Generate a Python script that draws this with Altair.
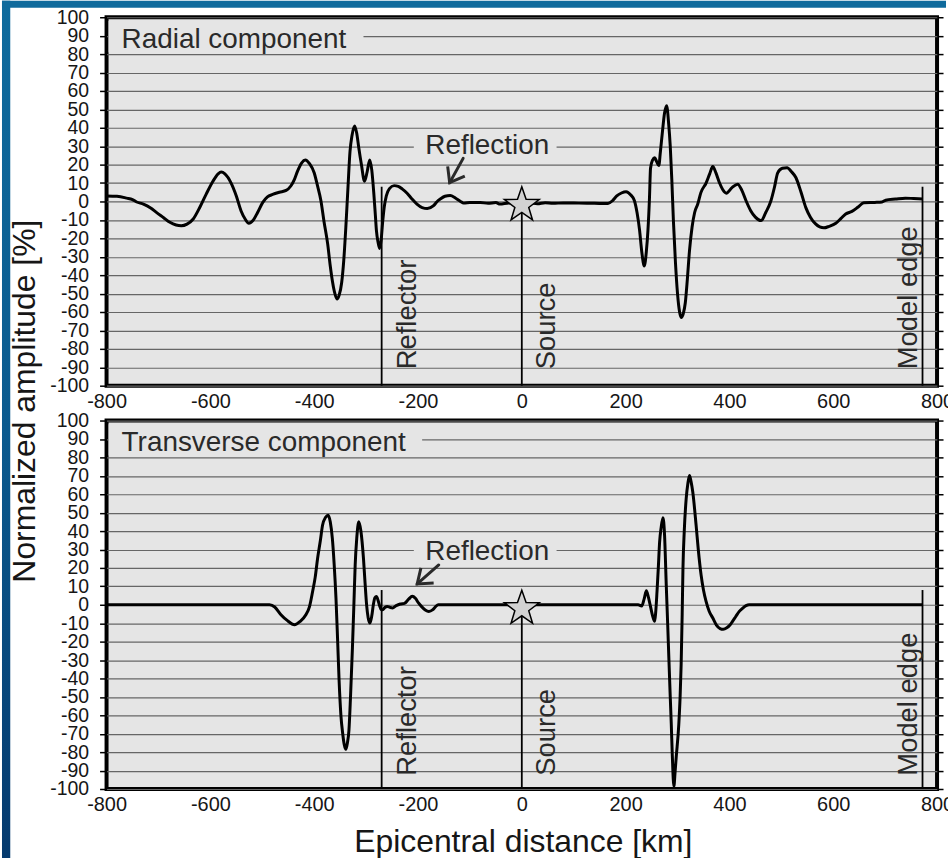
import altair as alt
import pandas as pd

# ---------------------------------------------------------------- data
# Radial component: epicentral distance (km) / normalized amplitude (%)
radial_x = [-800, -780, -761, -750, -742, -729, -715, -704, -690, -678, -666, -656,
            -645, -633, -620, -608, -595, -585, -579, -572, -560, -550, -541, -533,
            -526, -517, -509, -499, -490, -480, -467, -454, -445, -438, -432, -424,
            -417, -409, -400, -394, -387, -381, -374, -369, -365, -361, -356, -352,
            -347, -343, -339, -335, -331, -327, -322, -318, -314, -309, -303, -298,
            -293, -289, -285, -282, -280, -277, -274, -271, -268, -265, -261, -255,
            -246, -238, -230, -221, -212, -202, -192, -182, -170, -163, -157, -148,
            -138, -130, -125, -118, -112, -100, -80, -65, -50, -42, -25, -10, 0, 15,
            30, 45, 60, 80, 110, 140, 166, 175, 183, 192, 201, 210, 217, 222, 227,
            231, 236, 240, 243, 246, 248, 252, 256, 260, 264, 267, 271, 275, 279,
            283, 286, 289, 292, 296, 300, 304, 307, 311, 315, 319, 323, 328, 333,
            339, 345, 355, 362, 368, 374, 381, 387, 394, 405, 416, 424, 432, 441,
            450, 461, 470, 480, 487, 493, 502, 511, 520, 528, 538, 547, 556, 566,
            574, 582, 592, 605, 615, 624, 636, 648, 659, 680, 694, 701, 720, 739,
            755, 772]
radial_y = [3.0, 2.8, 1.8, 1.0, -0.3, -1.4, -3.5, -5.9, -8.8, -11.3, -12.8, -13.2,
            -12.3, -9.5, -3.0, 4.0, 11.0, 15.0, 16.0, 15.0, 10.0, 3.0, -5.0, -9.5,
            -11.8, -10.0, -6.0, -0.5, 2.5, 3.8, 5.0, 6.0, 8.4, 12.0, 16.5, 21.0,
            22.5, 20.5, 15.6, 9.0, 0.4, -11.0, -23.0, -35.0, -43.0, -49.0, -53.0, -51.0,
            -44.0, -32.0, -14.0, 7.0, 27.0, 36.0, 41.0, 37.0, 29.0, 20.0, 11.0, 16.0,
            22.5, 17.0, 4.0, -8.0, -16.0, -22.0, -25.5, -21.0, -11.0, -3.0, 3.0, 7.0,
            8.6, 8.2, 6.7, 4.5, 1.5, -1.4, -3.3, -3.8, -2.3, 0.0, 1.3, 2.8,
            3.2, 2.3, 1.3, 0.0, -0.9, -0.6, -0.5, -1.0, -0.6, -1.4, -0.8, -1.2, -1.0, -0.8,
            -1.3, -0.7, -1.0, -0.8, -0.9, -1.0, -1.1, 0.5, 3.0, 4.6, 5.3, 3.5, 0.4, -6.0, -15.8,
            -27.0, -35.0, -27.0, -15.8, 2.0, 18.0, 22.5, 23.7, 21.5, 19.5, 27.0, 38.0, 48.0, 52.0,
            42.0, 30.0, 12.0, -10.0, -33.0, -50.0, -60.0, -63.0, -61.0, -55.0, -42.0, -27.0, -14.0, -6.0,
            -1.4, 4.8, 10.0, 15.0, 19.0, 15.5, 10.0, 6.5, 4.5, 7.5, 9.4, 6.0, 0.4, -5.0,
            -8.5, -10.4, -6.0, 0.4, 8.0, 15.5, 18.0, 18.3, 16.0, 13.0, 5.0, -3.2, -8.5, -12.2,
            -13.8, -14.3, -13.5, -11.8, -9.2, -6.8, -5.4, -3.0, -0.7, -0.5, -0.3, 0.7, 1.3, 1.8,
            1.6, 1.4]

# Transverse component
transverse_x = [-800, -486, -476, -464, -452, -438, -427, -416, -409, -403, -398, -393.5,
                -388, -384, -378, -373, -369, -365, -361.5, -358, -355, -352, -348.5, -345,
                -342, -339, -336, -333, -330, -326.3, -323.5, -321, -318, -314, -310, -305,
                -302, -299, -296, -292.5, -289, -286, -283, -280, -277, -274, -271, -268,
                -264, -259, -254, -249, -242, -234, -226, -218, -211, -205, -199, -193,
                -186, -179, -172, -166, -161, -140, 224, 231, 236, 240, 244, 248,
                252, 256, 258, 260.5, 263, 265.5, 268.5, 272, 275, 278.3, 281, 283.3,
                286, 288, 290, 293, 295.5, 297.5, 302.5, 305, 307, 309, 310.5, 313,
                316.7, 320, 323, 326, 329.4, 335.8, 340, 345.4, 350, 355, 361, 368,
                375, 382, 388, 395, 401, 406, 412, 419, 425, 432, 438, 772]
transverse_y = [0.0, 0.0, -1.2, -5.4, -8.5, -10.8, -9.0, -5.4, -1.0, 7.2, 15.0, 25.0,
                35.0, 43.0, 47.5, 48.6, 45.0, 36.0, 22.0, 3.6, -18.0, -41.0, -60.0, -70.0,
                -76.0, -78.5, -75.0, -68.0, -50.0, -23.4, 0.0, 21.6, 36.0, 45.0, 40.0, 25.0,
                12.0, 0.0, -7.0, -9.9, -6.0, 0.0, 3.8, 4.5, 2.5, -0.5, -2.5, -2.7,
                -1.5, -0.9, -1.4, -1.7, -0.5, 0.4, 0.8, 3.0, 4.6, 3.5, 1.0, -1.0,
                -2.8, -3.6, -2.8, -1.0, 0.0, 0.0, 0.0, -0.7, 3.5, 7.6, 4.0, -1.0,
                -6.0, -9.0, -4.0, 7.2, 20.0, 34.0, 42.0, 47.2, 38.0, 10.8, -10.0, -28.8,
                -50.0, -65.0, -82.0, -98.5, -90.0, -82.7, -64.8, -50.0, -32.4, -5.0, 20.0, 40.0,
                57.6, 66.0, 70.2, 67.0, 61.2, 43.2, 30.0, 16.2, 8.0, 1.8, -3.5, -7.2,
                -11.0, -12.9, -13.3, -12.5, -11.0, -9.0, -6.5, -3.6, -2.0, -0.5, 0.0, 0.0]

panel_titles = ["Radial component", "Transverse component"]
title_box_end = [-305, -192]          # where the horizontal rule resumes after each title

marker_names = ["Reflector", "Source", "Model edge"]
marker_x = [-270, 0, 772]             # reflector, source and model edge (km)
marker_top = [8, 0, 8]                # upper end of each marker line (%)
marker_label_x = [-203, 64, 762]      # baseline of the rotated marker labels (km)

source_star = {"x": 0, "y": -2}

reflection_label_y = [25.8, 24.3]
reflection_label_x = -186
# arrow tail (x, y) -> tip (x, y) and head rotation in degrees
arrow_tail = [(-113, 23.4), (-160, 21.6)]
arrow_tip = [(-139, 10.2), (-201.5, 11.3)]
arrow_angle = [120, 140]

y_ticks = list(range(-100, 101, 10))
x_ticks = list(range(-800, 801, 200))

# --------------------------------------------------------------- style
FONT = "Liberation Sans"
PLOT_BG = "#e5e5e5"
INK = "#161616"
LABEL_INK = "#2a2a2a"
W, H = 834, 370

XS = alt.Scale(domain=[-800, 800], nice=False, zero=False)
YS = alt.Scale(domain=[-100, 100], nice=False, zero=False)

STAR = ("M0,-1L0.235,-0.324L0.951,-0.309L0.38,0.124L0.588,0.809L0,0.4"
        "L-0.588,0.809L-0.38,0.124L-0.951,-0.309L-0.235,-0.324Z")
CHEVRON = "M-1,-0.75L0,0L-1,0.75"

# tick labels use a plain hyphen for negative numbers
PLAIN_LABEL = "'' + datum.value"

one_row = pd.DataFrame({"k": [0]})


def x_axis(with_title):
    common = dict(values=x_ticks, labelExpr=PLAIN_LABEL, labelFontSize=20, labelFont=FONT,
                  labelColor=INK, labelPadding=6, labelFlush=False, labelOverlap=False,
                  ticks=False, domain=False, grid=False)
    if with_title:
        return alt.Axis(title="Epicentral distance [km]", titleFontSize=32, titleFont=FONT,
                        titleFontWeight="normal", titleColor=INK, titleX=418, titleY=63,
                        titleAlign="center", titleBaseline="alphabetic", **common)
    return alt.Axis(title=None, **common)


def y_axis(with_title):
    common = dict(values=y_ticks, labelExpr=PLAIN_LABEL, labelFontSize=19.5, labelFont=FONT,
                  labelColor=INK, labelPadding=11, labelOverlap=False, tickSize=7,
                  tickColor="black", tickWidth=1.5, domain=False, grid=True,
                  gridColor="#666666", gridWidth=1.2)
    if with_title:
        return alt.Axis(title="Normalized amplitude [%]", titleFontSize=32, titleFont=FONT,
                        titleFontWeight="normal", titleColor=INK, titleAngle=270,
                        titleX=-72, titleY=385, titleAlign="center",
                        titleBaseline="alphabetic", **common)
    return alt.Axis(title=None, **common)


right_axis = alt.Axis(orient="right", values=y_ticks, labels=False, tickSize=6,
                      tickColor="black", tickWidth=1.5, domain=False, grid=False, title=None)


def panel(i, xs, ys, label_lift, first):
    trace = pd.DataFrame({"x": xs, "y": ys})

    boxes = pd.DataFrame({"x": [-796, reflection_label_x - 22],
                          "x2": [title_box_end[i], 67],
                          "y": [81, 21.5], "y2": [98, 38]})
    box_layer = alt.Chart(boxes).mark_rect(fill=PLOT_BG).encode(
        x=alt.X("x:Q", scale=XS, axis=None), x2="x2:Q",
        y=alt.Y("y:Q", scale=YS, axis=None), y2="y2:Q")

    line = alt.Chart(trace).mark_line(color="black", strokeWidth=3, interpolate="monotone",
                                      strokeJoin="round").encode(
        x=alt.X("x:Q", scale=XS, axis=x_axis(not first)),
        y=alt.Y("y:Q", scale=YS, axis=y_axis(first)))

    markers = pd.DataFrame({"x": marker_x, "y0": [-100] * 3, "y1": marker_top})
    rules = alt.Chart(markers).mark_rule(color="black", strokeWidth=1.8).encode(
        x=alt.X("x:Q", scale=XS, axis=None),
        y=alt.Y("y0:Q", scale=YS, axis=right_axis), y2="y1:Q")

    star = alt.Chart(pd.DataFrame([source_star])).mark_point(
        shape=STAR, filled=True, fill="#d2d2d2", stroke="black", strokeWidth=1.5,
        size=1350, opacity=1).encode(
        x=alt.X("x:Q", scale=XS, axis=None), y=alt.Y("y:Q", scale=YS, axis=None))

    marker_labels = pd.DataFrame({"x": marker_label_x, "y": [-100] * 3, "text": marker_names})
    mlabels = alt.Chart(marker_labels).mark_text(
        angle=270, align="left", baseline="alphabetic", fontSize=27.5, font=FONT,
        color=LABEL_INK, dx=label_lift).encode(
        x=alt.X("x:Q", scale=XS, axis=None), y=alt.Y("y:Q", scale=YS, axis=None),
        text="text:N")

    words = pd.DataFrame({"x": [-771, reflection_label_x],
                          "y": [83.4, reflection_label_y[i]],
                          "text": [panel_titles[i], "Reflection"]})
    wlayer = alt.Chart(words).mark_text(
        align="left", baseline="alphabetic", fontSize=28, font=FONT, color=LABEL_INK).encode(
        x=alt.X("x:Q", scale=XS, axis=None), y=alt.Y("y:Q", scale=YS, axis=None),
        text="text:N")

    arrow = pd.DataFrame({"x": [arrow_tail[i][0]], "y": [arrow_tail[i][1]],
                          "x2": [arrow_tip[i][0]], "y2": [arrow_tip[i][1]]})
    shaft = alt.Chart(arrow).mark_rule(color="#2a2a2a", strokeWidth=3, strokeCap="round").encode(
        x=alt.X("x:Q", scale=XS, axis=None), y=alt.Y("y:Q", scale=YS, axis=None),
        x2="x2:Q", y2="y2:Q")
    head = alt.Chart(arrow).mark_point(
        shape=CHEVRON, filled=False, stroke="#2a2a2a", strokeWidth=3, size=700,
        angle=arrow_angle[i], opacity=1, strokeJoin="miter").encode(
        x=alt.X("x2:Q", scale=XS, axis=None), y=alt.Y("y2:Q", scale=YS, axis=None))

    layers = [box_layer, line, rules, star, mlabels, wlayer, shaft, head]

    if first:
        # blue slide border along the top and left edges of the page
        left_band = alt.Chart(one_row).mark_rect(
            fill=alt.LinearGradient(
                gradient="linear", x1=0, x2=0, y1=0, y2=1,
                stops=[alt.GradientStop(offset=0, color="#0f6b9d"),
                       alt.GradientStop(offset=0.5, color="#0b5a8e"),
                       alt.GradientStop(offset=1, color="#053a6e")])).encode(
            x=alt.value(-105), x2=alt.value(-96.7), y=alt.value(-16.5), y2=alt.value(845))
        top_band = alt.Chart(one_row).mark_rect(color="#0f6a9c").encode(
            x=alt.value(-105), x2=alt.value(843), y=alt.value(-16.5), y2=alt.value(-9.6))
        layers += [left_band, top_band]

    return (alt.layer(*layers)
            .resolve_axis(x="independent", y="independent")
            .properties(width=W, height=H))


top = panel(0, radial_x, radial_y, 16.5, True)
bottom = panel(1, transverse_x, transverse_y, 13.4, False)

chart = (
    alt.vconcat(top, bottom, spacing=35, bounds="flush")
    .properties(padding={"left": 0, "top": -3.5, "right": -8, "bottom": -1},
                background="white")
    .configure(font=FONT)
    .configure_view(fill=PLOT_BG, stroke="black", strokeWidth=4)
)

chart.save("out.html", embed_options={"renderer": "svg", "actions": False})
